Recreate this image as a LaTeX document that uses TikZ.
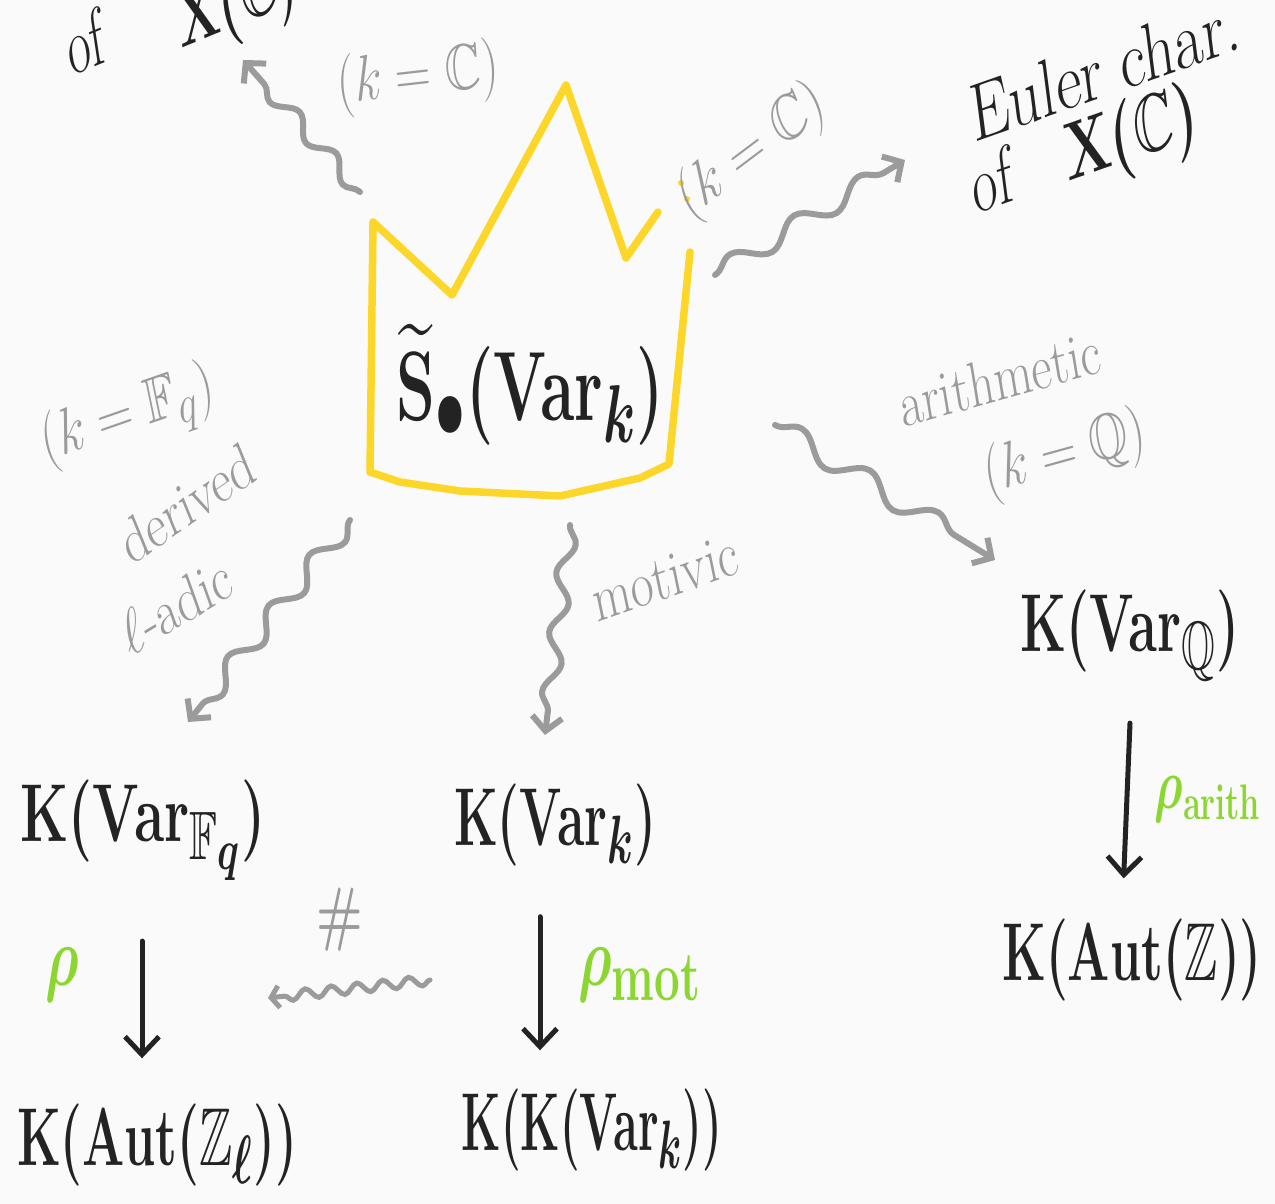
\documentclass[tikz,border=0pt]{standalone}
\usepackage{amsmath,amssymb}
\usetikzlibrary{arrows.meta,decorations.pathmorphing,positioning}
\definecolor{ink}{RGB}{35,35,35}
\definecolor{pencil}{RGB}{155,155,155}
\definecolor{crowncol}{RGB}{252,214,40}
\definecolor{chalk}{RGB}{140,214,50}
\definecolor{paper}{RGB}{250,250,250}

\begin{document}
\begin{tikzpicture}[x=1pt,y=-1pt,
    hand/.style={ink, inner sep=0pt, font=\Huge\boldmath, transform shape, xscale=2.0, yscale=3.3},
    note/.style={pencil, inner sep=0pt, font=\Huge, transform shape, xscale=2, yscale=2.6},
    gloss/.style={chalk, inner sep=0pt, font=\Huge\boldmath, transform shape, xscale=2.2, yscale=3.4},
    squig/.style={pencil, line width=6pt, line cap=round, decorate,
      decoration={snake, amplitude=8pt, segment length=60pt, post length=12pt},
      -{Straight Barb[length=14pt,width=30pt]}},
    down/.style={ink, line width=5pt, line cap=round,
      -{Straight Barb[length=18pt,width=34pt]}}]
    % Paper
    \fill[paper] (0,0) rectangle (1275,1204);
    \useasboundingbox (0,0) rectangle (1275,1204);

    % Crown
    \draw[crowncol, line width=7.5pt, line join=round, line cap=round]
      (370,472) -- (373,222) -- (452,295) -- (566,85) -- (626,258) -- (658,212);
    \draw[crowncol, line width=7.5pt, line join=round, line cap=round]
      (690,252) -- (669,464) -- (640,478) -- (560,496) -- (460,491) -- (400,482) -- (370,472);
    \fill[crowncol] (681,183) circle (3pt) (687,199) circle (3pt);

    % Centre
    \node[hand, xscale=1.25, yscale=1.2] (sv) at (530,385) {$\widetilde{\mathrm{S}}_{\bullet}(\mathrm{Var}_k)$};

    % Targets
    \node[hand, rotate=14] (of1) at (85,42) {of};
    \node[hand, rotate=14] (xc1) at (238,4) {$\mathrm{X}(\mathbb{C})$};
    \node[hand, rotate=12, xscale=1.25] (eul) at (1105,68) {Euler char.};
    \node[hand, rotate=12, xscale=1.1] (xc2) at (1085,155) {of\quad $\mathrm{X}(\mathbb{C})$};

    \node[hand, xscale=1.05] (kvq) at (1130,635) {$\mathrm{K}(\mathrm{Var}_{\mathbb{Q}})$};
    \node[hand] (kaz) at (1132,960) {$\mathrm{K}(\mathrm{Aut}(\mathbb{Z}))$};
    \node[hand, xscale=1.1] (kvf) at (143,830) {$\mathrm{K}(\mathrm{Var}_{\mathbb{F}_q})$};
    \node[hand] (kazl) at (157,1145) {$\mathrm{K}(\mathrm{Aut}(\mathbb{Z}_\ell))$};
    \node[hand] (kvk) at (555,825) {$\mathrm{K}(\mathrm{Var}_k)$};
    \node[hand, xscale=0.9] (kkvk) at (592,1130) {$\mathrm{K}(\mathrm{K}(\mathrm{Var}_k))$};

    % Labels
    \node[note, rotate=5] (lc1) at (418,78) {$(k=\mathbb{C})$};
    \node[note, rotate=30] (lc2) at (752,152) {$(k=\mathbb{C})$};
    \node[note, rotate=15] (lfq) at (128,418) {$(k=\mathbb{F}_q)$};
    \node[note, rotate=28] (der) at (187,503) {derived};
    \node[note, rotate=25] (lad) at (176,605) {$\ell$-adic};
    \node[note, rotate=15] (mot) at (665,578) {motivic};
    \node[note, rotate=12] (ari) at (1000,378) {arithmetic};
    \node[note, rotate=12] (lq) at (1065,455) {$(k=\mathbb{Q})$};
    \node[note, font=\Huge\boldmath, yscale=1.1] (hash) at (340,920) {$\#$};

    % Realisations
    \node[gloss] (rl) at (62,975) {$\rho$};
    \node[gloss] (rm) at (640,975) {$\rho_{\mathrm{mot}}$};
    \node[gloss, xscale=0.85, yscale=0.85] (ra) at (1208,800) {$\rho_{\scriptscriptstyle\mathrm{arith}}$};

    % Squiggly maps
    \coordinate (s1) at (360,192);
    \coordinate (t1) at (243,60);
    \coordinate (s2) at (715,275);
    \coordinate (t2) at (905,160);
    \coordinate (s3) at (350,520);
    \coordinate (t3) at (188,722);
    \coordinate (s4) at (570,525);
    \coordinate (t4) at (545,735);
    \coordinate (s5) at (775,425);
    \coordinate (t5) at (995,560);
    \coordinate (s6) at (430,980);
    \coordinate (t6) at (268,998);
    \draw[squig, decoration={segment length=55pt}] (s1) -- (t1);
    \draw[squig, decoration={segment length=75pt, amplitude=10pt}] (s2) -- (t2);
    \draw[squig, decoration={segment length=65pt, amplitude=10pt}] (s3) -- (t3);
    \draw[squig] (s4) -- (t4);
    \draw[squig, decoration={segment length=80pt, amplitude=11pt}] (s5) -- (t5);
    \draw[squig, line width=5pt, decoration={snake, amplitude=5pt, segment length=26pt, post length=6pt},
      -{Straight Barb[length=8pt,width=22pt]}] (s6) -- (t6);

    % Straight maps
    \draw[down, shorten >=45pt] (kvf.south -| 142,0) ++(0,60) -- (kazl.north -| 142,0);
    \draw[down, shorten >=38pt] (kvk.south -| 540,0) ++(0,50) -- (kkvk.north -| 540,0);
    \draw[down, shorten >=40pt] (kvq.south -| 1130,0) ++(0,42) -- (kaz.north -| 1122,0);
\end{tikzpicture}
\end{document}
